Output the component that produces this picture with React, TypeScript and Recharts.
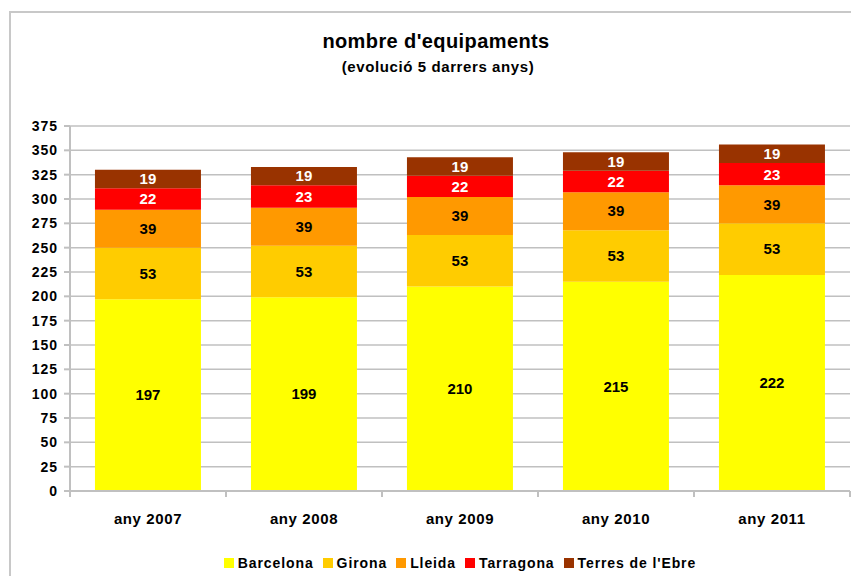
import React from 'react';
import { BarChart, Bar, XAxis, YAxis, CartesianGrid, LabelList } from 'recharts';

// categories and series values
const years = ['any 2007', 'any 2008', 'any 2009', 'any 2010', 'any 2011'];
const barcelona = [197, 199, 210, 215, 222];
const girona = [53, 53, 53, 53, 53];
const lleida = [39, 39, 39, 39, 39];
const tarragona = [22, 23, 22, 22, 23];
const terresEbre = [19, 19, 19, 19, 19];
const yTicks = [0, 25, 50, 75, 100, 125, 150, 175, 200, 225, 250, 275, 300, 325, 350, 375];

const series = [
  { key: 'Barcelona', color: '#FFFF00', label: '#000000' },
  { key: 'Girona', color: '#FFCC00', label: '#000000' },
  { key: 'Lleida', color: '#FF9900', label: '#000000' },
  { key: 'Tarragona', color: '#FF0000', label: '#FFFFFF' },
  { key: "Terres de l'Ebre", color: '#993300', label: '#FFFFFF' },
];

const data = years.map((year, i) => ({
  year,
  Barcelona: barcelona[i],
  Girona: girona[i],
  Lleida: lleida[i],
  Tarragona: tarragona[i],
  "Terres de l'Ebre": terresEbre[i],
}));

const FONT = '"Liberation Sans", Arial, sans-serif';
const GRID = '#c0c0c0';

// category label plus tick marks on the band boundaries
const XTick = (props: any) => {
  const { x, y, payload, index, visibleTicksCount } = props;
  const off = payload && payload.offset ? payload.offset : 78;
  const top = y - 8;
  return (
    <g>
      <line x1={x - off} y1={top} x2={x - off} y2={top + 6} stroke={GRID} strokeWidth={2} />
      {index === visibleTicksCount - 1 && (
        <line x1={x + off} y1={top} x2={x + off} y2={top + 6} stroke={GRID} strokeWidth={2} />
      )}
      <text x={x} y={y + 25} textAnchor="middle" fontFamily={FONT} fontWeight="bold" fontSize={15} letterSpacing={0.6} fill="#000">
        {payload.value}
      </text>
    </g>
  );
};

const App: React.FC = () => {
  return (
    <div style={{ position: 'absolute', left: 0, top: 0, width: 851, height: 576, background: '#fff', overflow: 'hidden', fontFamily: FONT }}>
      <div style={{ position: 'absolute', left: 9, top: 11, width: 900, height: 700, border: '2px solid #c8c8c8', boxSizing: 'border-box' }} />
      <div style={{ position: 'absolute', left: 0, width: 872, top: 30, textAlign: 'center', fontWeight: 'bold', fontSize: 20, letterSpacing: 0.4, color: '#000' }}>
        nombre d'equipaments
      </div>
      <div style={{ position: 'absolute', left: 0, width: 876, top: 58, textAlign: 'center', fontWeight: 'bold', fontSize: 15, letterSpacing: 0.6, color: '#000' }}>
        (evolució 5 darrers anys)
      </div>
      <div style={{ position: 'absolute', left: 0, top: 0 }}>
        <BarChart width={851} height={576} data={data} margin={{ top: 126, right: 1, left: 0, bottom: 0 }} barCategoryGap="16%">
          <CartesianGrid vertical={false} stroke={GRID} strokeWidth={1.5} />
          <XAxis
            dataKey="year"
            height={85}
            tickLine={false}
            axisLine={{ stroke: GRID, strokeWidth: 2 }}
            tick={<XTick />}
            interval={0}
          />
          <YAxis
            width={70}
            domain={[0, 375]}
            ticks={yTicks}
            interval={0}
            tickSize={6}
            tickLine={{ stroke: GRID, strokeWidth: 2 }}
            axisLine={{ stroke: GRID, strokeWidth: 2 }}
            tick={{ fontFamily: FONT, fontWeight: 'bold', fontSize: 14, letterSpacing: 1, fill: '#000' }}
            tickMargin={6}
          />
          {series.map((s) => (
            <Bar key={s.key} dataKey={s.key} stackId="a" fill={s.color} isAnimationActive={false}>
              <LabelList
                dataKey={s.key}
                position="center"
                fill={s.label}
                style={{ fontFamily: FONT, fontWeight: 'bold', fontSize: 15 }}
              />
            </Bar>
          ))}
        </BarChart>
      </div>
      <div style={{ position: 'absolute', left: 0, width: 929, top: 555, display: 'flex', justifyContent: 'center', alignItems: 'center', fontWeight: 'bold', fontSize: 14, letterSpacing: 0.9, color: '#000' }}>
        {series.map((s) => (
          <div key={s.key} style={{ display: 'flex', alignItems: 'center', marginRight: 9 }}>
            <div style={{ width: 10, height: 10, background: s.color, marginRight: 4 }} />
            <span>{s.key}</span>
          </div>
        ))}
      </div>
    </div>
  );
};

export default App;
